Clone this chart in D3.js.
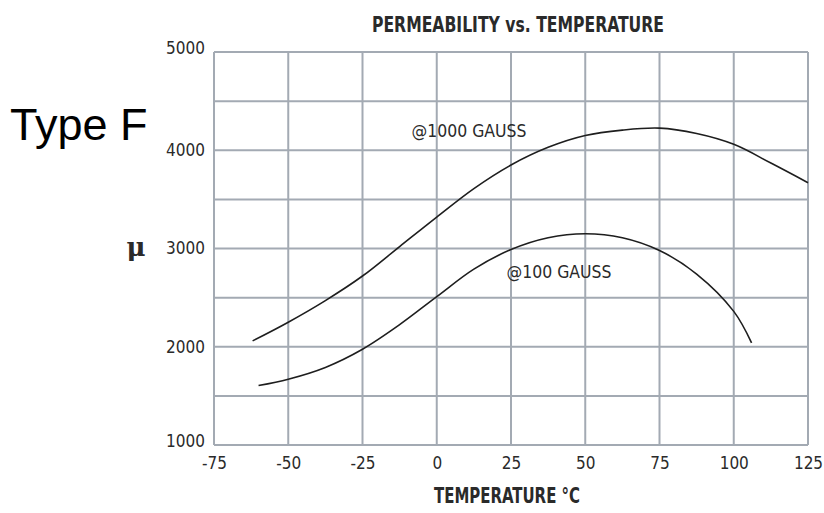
<!DOCTYPE html>
<html>
<head>
<meta charset="utf-8">
<script src="https://cdn.jsdelivr.net/npm/d3@7"></script>
<style>
  html, body { margin: 0; padding: 0; background: #ffffff; }
  svg { display: block; }
  .cond { font-family: "Liberation Sans Narrow", "DejaVu Sans Condensed", "Arial Narrow", sans-serif; }
</style>
</head>
<body>
<svg id="chart" width="824" height="513"></svg>
<script>
// ---- data ----
const tempTicks = [-75, -50, -25, 0, 25, 50, 75, 100, 125];
const tempTickLabels = ["-75", "-50", "-25", "0", "25", "50", "75", "100", "125"];
const muTicks = [1000, 2000, 3000, 4000, 5000];
const muGrid = [1000, 1500, 2000, 2500, 3000, 3500, 4000, 4500, 5000];

const temps1000 = [-62, -50, -37.5, -25, -12.5, 0, 12.5, 25, 37.5, 50, 62.5, 75, 87.5, 100, 112.5, 125];
const mu1000    = [2060, 2250, 2470, 2720, 3020, 3320, 3610, 3850, 4030, 4150, 4205, 4225, 4170, 4060, 3870, 3670];

const temps100 = [-60, -50, -37.5, -25, -12.5, 0, 12.5, 25, 37.5, 50, 62.5, 75, 87.5, 100, 106];
const mu100    = [1605, 1670, 1790, 1975, 2225, 2510, 2790, 2990, 3110, 3150, 3110, 2980, 2740, 2360, 2040];

const seriesLabels = ["@1000 GAUSS", "@100 GAUSS"];

(function () {
// ---- layout ----
const svg = d3.select("#chart");
const mLeft = 214, mRight = 808, mTop = 52, mBottom = 445;

const x = d3.scaleLinear().domain([-75, 125]).range([mLeft, mRight]);
const y = d3.scaleLinear().domain([1000, 5000]).range([mBottom, mTop]);

const gridColor = "#a3aab3";
const textColor = "#2a2a2a";

// grid
const g = svg.append("g");
g.selectAll("line.v").data(tempTicks).join("line").attr("class", "v")
  .attr("x1", d => x(d)).attr("x2", d => x(d))
  .attr("y1", y(5000)).attr("y2", y(1000))
  .attr("stroke", gridColor).attr("stroke-width", 2);
g.selectAll("line.h").data(muGrid).join("line").attr("class", "h")
  .attr("y1", d => y(d)).attr("y2", d => y(d))
  .attr("x1", x(-75)).attr("x2", x(125))
  .attr("stroke", gridColor).attr("stroke-width", 2);

// x axis labels
const xAxis = d3.axisBottom(x).tickValues(tempTicks)
  .tickFormat((d, i) => tempTickLabels[i]).tickSize(0).tickPadding(12);
const xg = svg.append("g").attr("transform", `translate(0,${mBottom})`).call(xAxis);
xg.attr("font-family", null).attr("font-size", null);
xg.select(".domain").remove();
xg.selectAll("text").attr("class", "cond").attr("font-size", 17).attr("fill", textColor);

// y axis labels
const yAxis = d3.axisLeft(y).tickValues(muTicks).tickFormat(d3.format("d")).tickSize(0).tickPadding(9);
const yg = svg.append("g").attr("transform", `translate(${mLeft},0)`).call(yAxis);
yg.attr("font-family", null).attr("font-size", null);
yg.select(".domain").remove();
yg.selectAll("text").attr("class", "cond").attr("font-size", 17).attr("fill", textColor)
  .attr("dy", d => (d === 1000 || d === 5000) ? "0.1em" : "0.32em");

// curves
const line = d3.line().x(d => x(d[0])).y(d => y(d[1])).curve(d3.curveCatmullRom.alpha(0.5));
const s1 = temps1000.map((t, i) => [t, mu1000[i]]);
const s2 = temps100.map((t, i) => [t, mu100[i]]);
[s1, s2].forEach(s => {
  svg.append("path").datum(s).attr("d", line)
    .attr("fill", "none").attr("stroke", "#1e1e1e").attr("stroke-width", 1.6);
});

// series labels
svg.append("text").attr("class", "cond")
  .attr("x", x(-8.5)).attr("y", y(4130))
  .attr("font-size", 17).attr("fill", textColor)
  .attr("textLength", 115).attr("lengthAdjust", "spacingAndGlyphs")
  .text(seriesLabels[0]);
svg.append("text").attr("class", "cond")
  .attr("x", x(23.5)).attr("y", y(2700))
  .attr("font-size", 17).attr("fill", textColor)
  .attr("textLength", 105).attr("lengthAdjust", "spacingAndGlyphs")
  .text(seriesLabels[1]);

// title
svg.append("text").attr("class", "cond")
  .attr("x", 518).attr("y", 32).attr("text-anchor", "middle")
  .attr("font-size", 22).attr("font-weight", "bold").attr("fill", textColor)
  .attr("textLength", 292).attr("lengthAdjust", "spacingAndGlyphs")
  .text("PERMEABILITY vs. TEMPERATURE");

// x axis title
svg.append("text").attr("class", "cond")
  .attr("x", 507).attr("y", 503).attr("text-anchor", "middle")
  .attr("font-size", 21).attr("font-weight", "bold").attr("fill", textColor)
  .attr("textLength", 146).attr("lengthAdjust", "spacingAndGlyphs")
  .text("TEMPERATURE °C");

// y axis symbol
svg.append("text")
  .attr("x", 136).attr("y", 256).attr("text-anchor", "middle")
  .attr("font-family", "DejaVu Serif, serif")
  .attr("font-size", 26).attr("font-weight", "bold").attr("fill", textColor)
  .text("μ");

// Type F
svg.append("text")
  .attr("x", 10).attr("y", 140)
  .attr("font-family", "Liberation Sans, Arial, sans-serif")
  .attr("font-size", 45).attr("fill", "#000")
  .text("Type F");
})();
</script>
</body>
</html>
